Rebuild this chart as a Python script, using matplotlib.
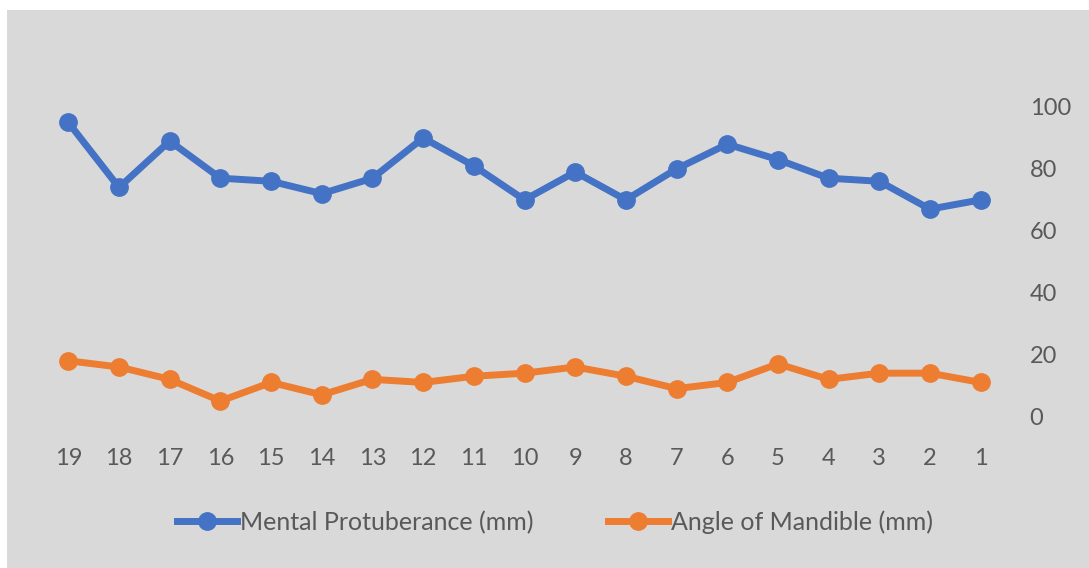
import matplotlib
matplotlib.use("Agg")
import matplotlib.pyplot as plt
from matplotlib.patches import Rectangle

categories = ["19", "18", "17", "16", "15", "14", "13", "12", "11", "10",
              "9", "8", "7", "6", "5", "4", "3", "2", "1"]
mental_protuberance = [95, 74, 89, 77, 76, 72, 77, 90, 81, 70,
                       79, 70, 80, 88, 83, 77, 76, 67, 70]
angle_of_mandible = [18, 16, 12, 5, 11, 7, 12, 11, 13, 14,
                     16, 13, 9, 11, 17, 12, 14, 14, 11]
y_ticks = [0, 20, 40, 60, 80, 100]

W, H = 1089, 568
fig = plt.figure(figsize=(W / 100, H / 100), dpi=100)
fig.patch.set_facecolor("white")
bg = "#D9D9D9"
fig.patches.append(Rectangle((7 / W, 0), 1 - 7 / W, 1 - 10 / H,
                             transform=fig.transFigure, facecolor=bg,
                             edgecolor="none", zorder=-5))

font = ["Lato", "DejaVu Sans"]
tc = "#595959"

# axes: x from 43 to 1006 px, y 0 at 416.5, 100 at 107
x0, x1 = 43, 1006
y0p, y100p = 416.5, 107
ax = fig.add_axes([x0 / W, (H - y0p) / H, (x1 - x0) / W, (y0p - y100p) / H])
ax.set_facecolor("none")
ax.set_zorder(2)
xs = list(range(len(categories)))
ax.plot(xs, mental_protuberance, color="#4472C4", lw=5, marker="o", ms=12.5,
        solid_joinstyle="round", label="Mental Protuberance (mm)", clip_on=False)
ax.plot(xs, angle_of_mandible, color="#ED7D31", lw=5, marker="o", ms=12.5,
        solid_joinstyle="round", label="Angle of Mandible (mm)", clip_on=False)
ax.set_xlim(-0.5, len(categories) - 0.5)
ax.set_ylim(0, 100)
ax.set_xticks(xs)
ax.set_xticklabels(categories, family=font, fontsize=17, color=tc)
ax.set_yticks(y_ticks)
ax.set_yticklabels([str(v) for v in y_ticks], family=font, fontsize=17, color=tc)
ax.yaxis.tick_right()
ax.tick_params(axis="both", length=0)
ax.tick_params(axis="x", pad=23)
ax.tick_params(axis="y", pad=17)
for s in ax.spines.values():
    s.set_visible(False)

leg = fig.legend(loc="center", bbox_to_anchor=(555 / W, 1 - 522 / H), ncol=2,
                 frameon=False, prop={"family": font, "size": 18},
                 handlelength=2.4, handletextpad=0.1, columnspacing=3.0,
                 labelcolor=tc)

fig.savefig("out.png", dpi=100, facecolor="white")
